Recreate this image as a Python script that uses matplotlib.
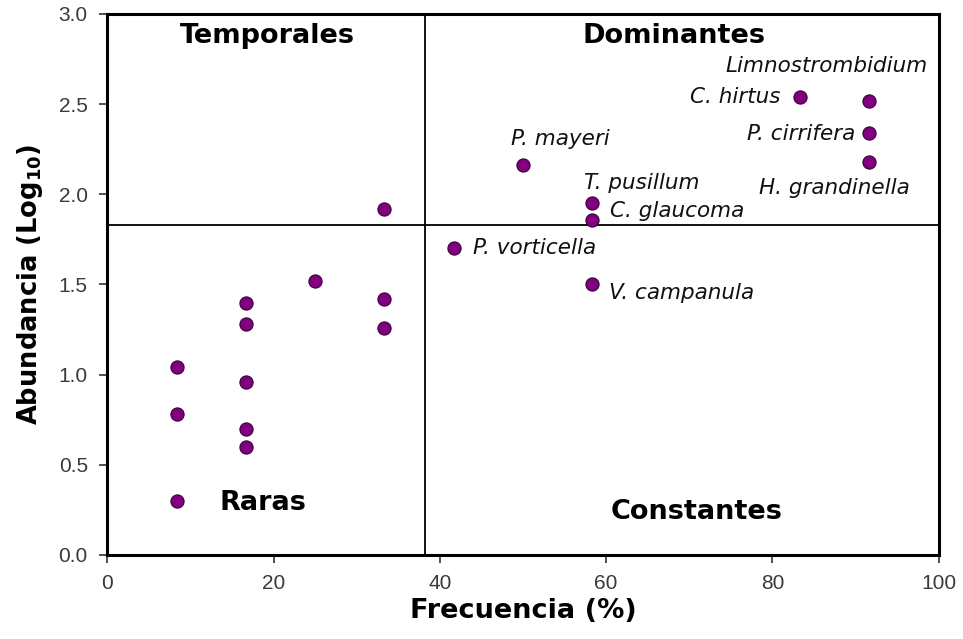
import numpy as np
import matplotlib.pyplot as plt
from matplotlib.ticker import FormatStrFormatter

# frecuencia (%) y abundancia (log10) de cada especie
frecuencia = [8.33, 8.33, 8.33, 16.67, 16.67, 16.67, 16.67, 16.67, 25.0,
              33.33, 33.33, 33.33, 41.67, 50.0, 58.33, 58.33, 58.33,
              83.33, 91.67, 91.67, 91.67]
abundancia = [1.04, 0.78, 0.30, 1.40, 1.28, 0.96, 0.70, 0.60, 1.52,
              1.92, 1.42, 1.26, 1.70, 2.16, 1.95, 1.86, 1.50,
              2.54, 2.52, 2.34, 2.18]
especies = [None, None, None, None, None, None, None, None, None,
            None, None, None, "P. vorticella", "P. mayeri", "T. pusillum",
            "C. glaucoma", "V. campanula", "C. hirtus", "Limnostrombidium",
            "P. cirrifera", "H. grandinella"]

# limites de los cuadrantes (media de frecuencia y de abundancia)
frec_media = 38.2
abun_media = 1.83

# desplazamiento de cada etiqueta en puntos y su alineacion
etiqueta_pos = {
    "P. vorticella": (14, 0, "left"),
    "P. mayeri": (-9, 19, "left"),
    "T. pusillum": (-6, 15, "left"),
    "C. glaucoma": (13, 6, "left"),
    "V. campanula": (12, -6, "left"),
    "C. hirtus": (-14, 0, "right"),
    "Limnostrombidium": (-31, 25, "center"),
    "P. cirrifera": (-10, -1, "right"),
    "H. grandinella": (-25, -19, "center"),
}

fig = plt.figure(figsize=(9.63, 6.39), dpi=100)
ax = fig.add_axes([0.1114, 0.1315, 0.8634, 0.8466])

ax.axvline(frec_media, color="black", lw=1.3, zorder=1)
ax.axhline(abun_media, color="black", lw=1.3, zorder=1)

ax.scatter(frecuencia, abundancia, s=90, color="#800080",
           edgecolors="#3a003a", linewidths=0.8, zorder=3)

for x, y, nombre in zip(frecuencia, abundancia, especies):
    if nombre is None:
        continue
    dx, dy, ha = etiqueta_pos[nombre]
    ax.annotate(nombre, (x, y), xytext=(dx, dy), textcoords="offset points",
                ha=ha, va="center", fontsize=15.5, style="italic",
                family="DejaVu Sans", color="#111111")

cuad = dict(fontsize=19.5, fontweight="heavy", family="DejaVu Sans",
            ha="center", va="center")
ax.text(19.3, 2.88, "Temporales", **cuad)
ax.text(68.2, 2.88, "Dominantes", **cuad)
ax.text(18.7, 0.29, "Raras", **cuad)
ax.text(70.9, 0.24, "Constantes", **cuad)

ax.set_xlim(0, 100)
ax.set_ylim(0, 3.0)
ax.set_xticks(np.arange(0, 101, 20))
ax.set_yticks(np.arange(0, 3.01, 0.5))
ax.yaxis.set_major_formatter(FormatStrFormatter("%.1f"))
ax.tick_params(direction="out", length=6, width=1.2, color="#333333",
               labelsize=15, labelcolor="#3a3a3a", pad=8)
for lbl in ax.get_xticklabels() + ax.get_yticklabels():
    lbl.set_family("Liberation Sans")

for sp in ax.spines.values():
    sp.set_linewidth(2.2)

ax.set_xlabel("Frecuencia (%)", fontsize=19.5, fontweight="heavy",
              family="DejaVu Sans", labelpad=3)
ax.set_ylabel(r"Abundancia (Log$\mathbf{_{10}}$)", fontsize=18.5,
              fontweight="heavy", family="DejaVu Sans", labelpad=10)

fig.savefig("out.png", dpi=100)
